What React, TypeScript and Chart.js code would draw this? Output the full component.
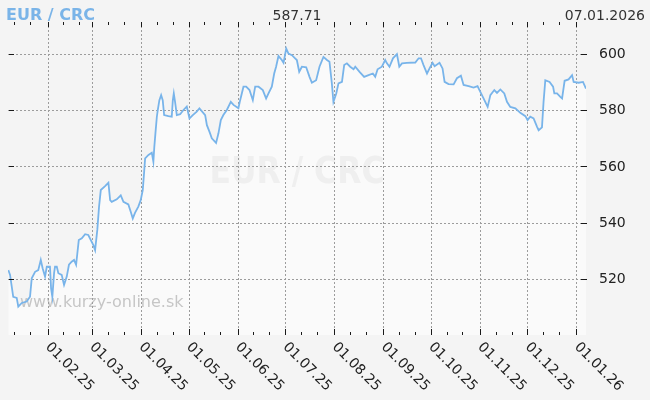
import React, { useEffect, useRef } from "react";
import { Chart, registerables } from "chart.js";

Chart.register(...registerables);

const pairTitle = "EUR / CRC";
const lastRate = "587.71";
const lastDate = "07.01.2026";
const siteMark = "www.kurzy-online.sk";

// days elapsed since 07.01.2025
const dayOffsets = [
  0.2, 1.3, 3.3, 5.5, 6.5, 8.7, 11.8, 13.9, 15.0, 17.1,
  19.1, 20.7, 21.9, 23.4, 24.5, 26.5, 27.2, 28.0, 29.1, 29.7,
  30.8, 31.8, 33.9, 35.4, 37.1, 38.5, 40.2, 41.7, 43.0, 43.8,
  44.7, 46.6, 48.7, 50.7, 52.3, 53.9, 55.0, 56.4, 57.5, 58.6,
  61.3, 63.4, 64.5, 65.5, 68.7, 71.2, 72.9, 76.0, 77.5, 78.8,
  80.2, 82.3, 83.8, 85.1, 85.9, 86.6, 88.7, 90.8, 91.8, 92.4,
  93.1, 94.0, 94.6, 95.6, 96.7, 97.7, 98.6, 101.3, 103.4, 104.1,
  104.7, 105.5, 106.6, 108.7, 110.8, 112.9, 114.6, 116.7, 119.2, 120.9,
  124.5, 125.6, 127.2, 128.7, 131.4, 132.9, 134.4, 136.0, 138.2, 140.7,
  142.4, 145.5, 146.6, 148.7, 150.4, 152.5, 154.6, 156.1, 158.2, 160.9,
  163.0, 164.5, 166.6, 168.1, 169.3, 170.8, 172.9, 174.0, 175.7, 177.1,
  179.3, 181.3, 182.4, 183.9, 185.6, 188.3, 190.4, 191.9, 194.6, 196.7,
  199.2, 201.4, 203.0, 204.5, 205.5, 207.3, 208.7, 210.9, 212.3, 214.0,
  216.1, 218.2, 219.3, 222.0, 224.9, 227.7, 230.4, 231.9, 233.4, 236.1,
  238.2, 239.3, 240.9, 243.1, 245.6, 247.1, 248.8, 251.9, 257.2, 259.3,
  260.8, 262.4, 264.6, 266.2, 268.1, 269.4, 272.5, 274.4, 275.7, 278.2,
  281.4, 283.5, 286.0, 287.7, 290.9, 294.0, 296.5, 298.2, 300.3, 302.9,
  304.6, 307.1, 308.8, 310.9, 313.4, 315.1, 317.2, 320.4, 323.5, 326.7,
  328.1, 329.8, 331.9, 334.1, 335.1, 337.2, 338.2, 339.3, 342.0, 344.2,
  345.0, 346.7, 348.8, 349.9, 351.5, 354.0, 356.2, 357.2, 360.4, 363.1,
  365.0,
];

const rates = [
  523.1, 521.4, 513.6, 513.2, 510.1, 511.4, 511.9, 513.6, 520.2, 522.5,
  523.1, 526.7, 523.7, 520.8, 524.3, 524.3, 516.6, 513.6, 522.0, 524.3,
  524.3, 522.0, 521.4, 517.8, 520.8, 525.0, 526.1, 526.7, 525.0, 529.1,
  533.8, 534.4, 535.9, 535.6, 533.8, 532.0, 530.2, 537.4, 545.7, 551.6,
  553.0, 554.2, 548.0, 547.4, 548.3, 549.7, 547.4, 546.5, 543.9, 541.5,
  543.5, 545.7, 548.0, 551.6, 557.5, 562.9, 564.1, 564.9, 561.7, 567.0,
  571.8, 577.7, 580.1, 583.6, 585.4, 583.6, 578.3, 577.9, 577.7, 583.6,
  586.0, 583.0, 578.3, 578.6, 580.1, 581.3, 577.1, 578.3, 579.5, 580.7,
  578.3, 574.7, 572.4, 570.0, 568.4, 571.8, 576.5, 578.3, 580.1, 583.0,
  581.9, 580.7, 583.6, 588.4, 588.4, 587.2, 583.6, 588.4, 588.4, 587.2,
  584.2, 586.0, 588.4, 593.1, 595.5, 599.3, 597.9, 596.9, 602.0, 600.2,
  599.6, 598.5, 597.9, 593.7, 595.5, 595.3, 591.9, 589.8, 590.7, 595.5,
  599.0, 597.9, 597.3, 589.6, 583.0, 586.0, 589.6, 590.1, 596.1, 596.7,
  595.5, 594.6, 595.5, 593.7, 591.9, 592.5, 593.1, 591.9, 594.6, 595.5,
  597.9, 596.7, 595.5, 598.5, 600.0, 595.5, 596.7, 596.9, 597.0, 598.5,
  598.5, 596.1, 593.1, 594.9, 596.9, 595.7, 596.9, 594.9, 590.1, 589.3,
  589.2, 591.4, 592.3, 589.0, 588.6, 588.1, 588.6, 586.6, 584.2, 581.2,
  585.4, 587.2, 586.2, 587.4, 586.0, 583.0, 581.2, 580.7, 579.1, 577.9,
  576.5, 577.7, 577.1, 574.1, 572.9, 573.9, 583.0, 590.7, 590.1, 588.4,
  586.0, 586.0, 584.8, 584.2, 590.5, 591.0, 592.5, 590.1, 589.8, 590.1,
  587.71,
];

const yTickValues = [520, 540, 560, 580, 600];
const monthLabels = [
  "01.02.25", "01.03.25", "01.04.25", "01.05.25", "01.06.25", "01.07.25",
  "01.08.25", "01.09.25", "01.10.25", "01.11.25", "01.12.25", "01.01.26",
];
const minorTickDays = [11, 21];

const START = Date.UTC(2025, 0, 7);
const DAY = 86400000;
const X_MAX = 365;

function labelToOffset(label: string): number {
  const [d, m, y] = label.split(".").map(Number);
  return (Date.UTC(2000 + y, m - 1, d) - START) / DAY;
}

function minorOffsets(): number[] {
  const out: number[] = [];
  for (let i = 0; i < 13; i++) {
    const y = 2025 + Math.floor(i / 12);
    const m = i % 12;
    for (const d of minorTickDays) {
      const off = (Date.UTC(y, m, d) - START) / DAY;
      if (off >= 0 && off <= X_MAX) out.push(off);
    }
  }
  return out;
}

const FONT = '"DejaVu Sans", Verdana, sans-serif';

const decorPlugin = {
  id: "decor",
  beforeDraw(chart: any) {
    const { ctx, chartArea: a } = chart;
    ctx.save();
    ctx.fillStyle = "#efefef";
    ctx.font = `bold 38px ${FONT}`;
    ctx.textAlign = "center";
    ctx.textBaseline = "alphabetic";
    ctx.fillText(pairTitle, (a.left + a.right) / 2, a.top + 157, 175);
    ctx.restore();
  },
  beforeDatasetsDraw(chart: any) {
    const { ctx, chartArea: a, scales } = chart;
    const xs = scales.x;
    const ys = scales.y;
    ctx.save();
    ctx.fillStyle = "#c6c6c6";
    ctx.font = `16px ${FONT}`;
    ctx.textAlign = "left";
    ctx.textBaseline = "alphabetic";
    ctx.fillText(siteMark, a.left + 12, a.bottom - 28.5);

    ctx.strokeStyle = "#9c9c9c";
    ctx.lineWidth = 1;
    ctx.setLineDash([2, 2]);
    ctx.beginPath();
    for (const lbl of monthLabels) {
      const x = Math.round(xs.getPixelForValue(labelToOffset(lbl))) + 0.5;
      ctx.moveTo(x, a.top);
      ctx.lineTo(x, a.bottom);
    }
    for (const v of yTickValues) {
      const y = Math.round(ys.getPixelForValue(v)) + 0.5;
      ctx.moveTo(a.left, y);
      ctx.lineTo(a.right, y);
    }
    ctx.stroke();
    ctx.restore();
  },
  afterDatasetsDraw(chart: any) {
    const { ctx, chartArea: a, scales } = chart;
    const xs = scales.x;
    const ys = scales.y;
    ctx.save();
    ctx.strokeStyle = "#1a1a1a";
    ctx.lineWidth = 1;
    ctx.beginPath();
    for (const off of minorOffsets()) {
      const x = Math.round(xs.getPixelForValue(off)) + 0.5;
      ctx.moveTo(x, a.top - 4);
      ctx.lineTo(x, a.top - 1);
      ctx.moveTo(x, a.bottom - 3);
      ctx.lineTo(x, a.bottom);
    }
    for (const lbl of monthLabels) {
      const x = Math.round(xs.getPixelForValue(labelToOffset(lbl))) + 0.5;
      ctx.moveTo(x, a.top - 4);
      ctx.lineTo(x, a.top + 1);
      ctx.moveTo(x, a.bottom - 6);
      ctx.lineTo(x, a.bottom);
    }
    for (const v of yTickValues) {
      const y = Math.round(ys.getPixelForValue(v)) + 0.5;
      ctx.moveTo(a.left + 1, y);
      ctx.lineTo(a.left + 6, y);
      ctx.moveTo(a.right - 5, y);
      ctx.lineTo(a.right + 1, y);
    }
    ctx.stroke();

    ctx.fillStyle = "#222";
    ctx.font = `14px ${FONT}`;
    ctx.textAlign = "left";
    ctx.textBaseline = "middle";
    for (const v of yTickValues) {
      ctx.fillText(String(v), a.right + 13, ys.getPixelForValue(v) + 0.5);
    }
    for (const lbl of monthLabels) {
      const x = xs.getPixelForValue(labelToOffset(lbl));
      ctx.save();
      ctx.translate(x, a.bottom + 10);
      ctx.rotate(Math.PI / 4);
      ctx.fillText(lbl, 0, 0);
      ctx.restore();
    }
    ctx.restore();
  },
  afterDraw(chart: any) {
    const { ctx, chartArea: a } = chart;
    ctx.save();
    ctx.textBaseline = "alphabetic";
    ctx.fillStyle = "#7ab4e8";
    ctx.font = `bold 16px ${FONT}`;
    ctx.textAlign = "left";
    ctx.fillText(pairTitle, 6, 20);
    ctx.fillStyle = "#333";
    ctx.font = `14px ${FONT}`;
    ctx.textAlign = "center";
    ctx.fillText(lastRate, (a.left + a.right) / 2, 20);
    ctx.textAlign = "right";
    ctx.fillText(lastDate, chart.width - 5, 20);
    ctx.restore();
  },
};

export default function App() {
  const canvasRef = useRef<HTMLCanvasElement | null>(null);

  useEffect(() => {
    document.documentElement.style.background = "#f4f4f4";
    document.body.style.margin = "0";
    document.body.style.background = "#f4f4f4";
    const canvas = canvasRef.current;
    if (!canvas) return;
    const points = dayOffsets.map((d, i) => ({ x: d, y: rates[i] }));
    const chart = new Chart(canvas, {
      type: "line",
      data: {
        datasets: [
          {
            data: points,
            borderColor: "#78b4ea",
            borderWidth: 1.8,
            backgroundColor: "#fafafa",
            fill: "start",
            pointRadius: 0,
            tension: 0,
          },
        ],
      },
      options: {
        animation: false,
        responsive: false,
        events: [],
        layout: { padding: { left: 8, right: 64, top: 26, bottom: 65 } },
        scales: {
          x: { type: "linear", min: 0, max: X_MAX, display: false },
          y: { type: "linear", min: 500, max: 610, display: false },
        },
        plugins: {
          legend: { display: false },
          tooltip: { enabled: false },
          filler: { drawTime: "beforeDraw" },
        },
      },
      plugins: [decorPlugin],
    });
    return () => chart.destroy();
  }, []);

  return (
    <div style={{ width: 650, height: 400 }}>
      <canvas ref={canvasRef} width={650} height={400} style={{ display: "block" }} />
    </div>
  );
}
